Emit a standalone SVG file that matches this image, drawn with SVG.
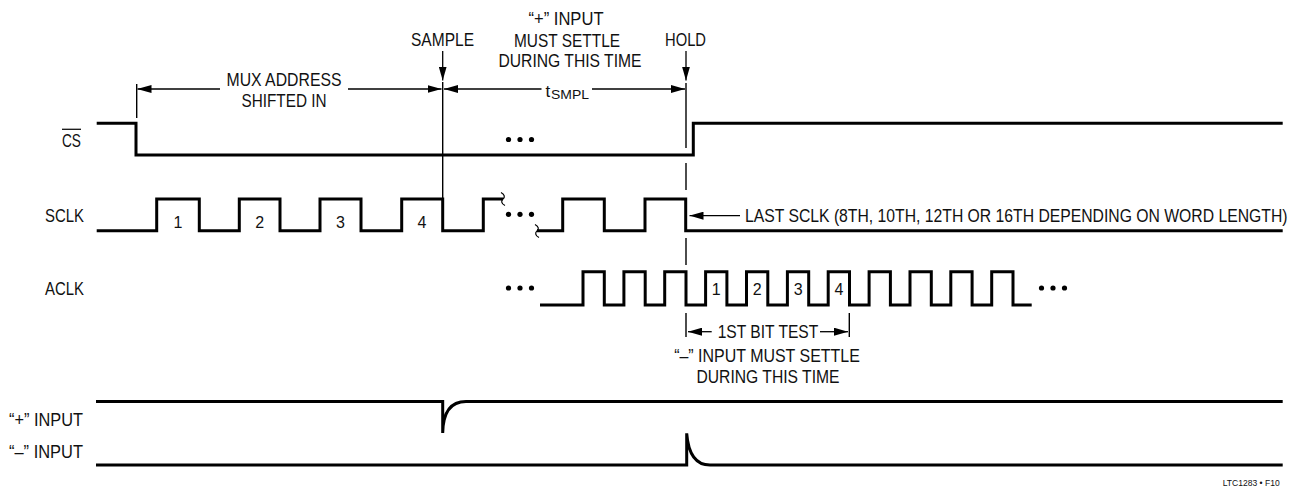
<svg xmlns="http://www.w3.org/2000/svg" width="1298" height="487" viewBox="0 0 1298 487">
<style>
  .t { font-family: "Liberation Sans", Arial, sans-serif; font-size: 19px; fill: #111; }
  .s { font-family: "Liberation Sans", Arial, sans-serif; font-size: 18px; fill: #111; }
  .n { font-family: "Liberation Sans", Arial, sans-serif; font-size: 16px; fill: #111; }
  .w { fill: none; stroke: #000; stroke-width: 3; stroke-linejoin: miter; stroke-linecap: butt; }
  .thin { fill: none; stroke: #000; stroke-width: 1.4; }
  .dim { fill: none; stroke: #000; stroke-width: 1.3; marker-end: url(#ah); }
  .sq { fill: none; stroke: #000; stroke-width: 1.2; }
  .dot { fill: #000; }
</style>
<defs>
  <marker id="ah" viewBox="0 0 14 8" markerWidth="14" markerHeight="8" refX="14" refY="4" orient="auto" markerUnits="userSpaceOnUse">
    <path d="M0,0 L14,4 L0,8 Z" fill="#000"/>
  </marker>
  <g id="dots3">
    <circle cx="0" cy="0" r="2.6"/>
    <circle cx="11.5" cy="0" r="2.6"/>
    <circle cx="23" cy="0" r="2.6"/>
  </g>
</defs>

<!-- signal labels -->
<g id="labels">
  <text id="lbl-cs" class="s" x="62" y="146.7" textLength="19" lengthAdjust="spacingAndGlyphs">CS</text>
  <line x1="62" y1="129.3" x2="81" y2="129.3" stroke="#111" stroke-width="1.3"/>
  <text id="lbl-sclk" class="s" x="45" y="221.7" textLength="39" lengthAdjust="spacingAndGlyphs">SCLK</text>
  <text id="lbl-aclk" class="s" x="45" y="294.6" textLength="39" lengthAdjust="spacingAndGlyphs">ACLK</text>
  <text id="lbl-plus" class="s" x="9" y="425.7" textLength="74" lengthAdjust="spacingAndGlyphs">“+” INPUT</text>
  <text id="lbl-minus" class="s" x="9" y="458.3" textLength="74" lengthAdjust="spacingAndGlyphs">“–” INPUT</text>
</g>

<!-- waveforms -->
<g id="cs">
  <path class="w" d="M96.7,123.3 H136 V155 H693.3 V123.3 H1282.7"/>
  <use href="#dots3" class="dot" x="508.5" y="139.5"/>
</g>

<g id="sclk">
  <path class="w" d="M96.7,230.7 H156.7 V199 H199.3 V230.7 H239.3 V199 H280 V230.7 H320 V199 H361 V230.7 H401.7 V199 H442.7 V230.7 H483.3 V199 H503"/>
  <path class="w" d="M537,230.7 H562.7 V199 H604.3 V230.7 H645 V199 H685.7 V230.7 H1282.7"/>
  <path class="sq" d="M501,192.5 C505,194.5 505,197.5 503,199 C501,200.5 501,203.5 505,205.5"/>
  <path class="sq" d="M535,224.5 C539,226.5 539,229.5 537,231 C535,232.5 535,235.5 539,237.5"/>
  <use href="#dots3" class="dot" x="508.5" y="214.3"/>
  <text class="n" x="178" y="228.3" text-anchor="middle">1</text>
  <text class="n" x="259.7" y="228.3" text-anchor="middle">2</text>
  <text class="n" x="340.5" y="228.3" text-anchor="middle">3</text>
  <text class="n" x="422" y="228.3" text-anchor="middle">4</text>
</g>

<g id="aclk">
  <path class="w" d="M540,305 H583 V271.7 H604.3 V305 H623.9 V271.7 H645.2 V305 H664.7 V271.7 H686 V305 H705.6 V271.7 H726.9 V305 H746.5 V271.7 H767.8 V305 H787.4 V271.7 H808.7 V305 H828.2 V271.7 H849.5 V305 H869.1 V271.7 H890.4 V305 H910 V271.7 H931.3 V305 H950.8 V271.7 H972.1 V305 H991.7 V271.7 H1013 V305 H1031.7"/>
  <use href="#dots3" class="dot" x="508.5" y="288"/>
  <use href="#dots3" class="dot" x="1041.5" y="288"/>
  <text class="n" x="716.3" y="295" text-anchor="middle">1</text>
  <text class="n" x="757.2" y="295" text-anchor="middle">2</text>
  <text class="n" x="798.1" y="295" text-anchor="middle">3</text>
  <text class="n" x="838.9" y="295" text-anchor="middle">4</text>
</g>

<g id="plus-input">
  <path class="w" d="M96,401.5 H442.7 V433 C443,414 449,401.5 466,401.5 H1282.7"/>
</g>

<g id="minus-input">
  <path class="w" d="M96,465 H686.7 V433.3 C688,450 693,465 710,465 H1282.7"/>
</g>

<!-- annotations / connectors -->
<g id="connectors">
  <!-- MUX address -->
  <line class="thin" x1="136.7" y1="84" x2="136.7" y2="118"/>
  <line class="dim" x1="220" y1="89" x2="137.5" y2="89"/>
  <line class="dim" x1="348" y1="89" x2="441.5" y2="89"/>
  <!-- sample line -->
  <line class="thin" x1="442.7" y1="82" x2="442.7" y2="199"/>
  <line class="dim" x1="442.7" y1="51" x2="442.7" y2="80.5"/>
  <!-- tSMPL -->
  <line class="dim" x1="541.5" y1="89" x2="444" y2="89"/>
  <line class="dim" x1="592" y1="89" x2="685" y2="89"/>
  <!-- hold -->
  <line class="dim" x1="686" y1="51" x2="686" y2="80.5"/>
  <line class="thin" x1="686" y1="83" x2="686" y2="148"/>
  <line class="thin" x1="686" y1="163" x2="686" y2="190"/>
  <line class="thin" x1="686" y1="238" x2="686" y2="265"/>
  <line class="thin" x1="686" y1="313" x2="686" y2="337"/>
  <!-- last sclk -->
  <line class="dim" x1="740" y1="215.7" x2="689.5" y2="215.7"/>
  <!-- 1st bit test -->
  <line class="thin" x1="849.3" y1="313" x2="849.3" y2="337"/>
  <line class="dim" x1="711.7" y1="331.7" x2="688" y2="331.7"/>
  <line class="dim" x1="820" y1="331.7" x2="848" y2="331.7"/>
</g>

<g id="annotation-text">
  <text class="t" x="284" y="86" text-anchor="middle" textLength="115" lengthAdjust="spacingAndGlyphs">MUX ADDRESS</text>
  <text class="t" x="284" y="107" text-anchor="middle" textLength="85" lengthAdjust="spacingAndGlyphs">SHIFTED IN</text>
  <text class="t" x="442.5" y="46" text-anchor="middle" textLength="63" lengthAdjust="spacingAndGlyphs">SAMPLE</text>
  <text class="t" x="566" y="25" text-anchor="middle" textLength="75" lengthAdjust="spacingAndGlyphs">“+” INPUT</text>
  <text class="t" x="567" y="46.5" text-anchor="middle" textLength="106" lengthAdjust="spacingAndGlyphs">MUST SETTLE</text>
  <text class="t" x="570" y="66.7" text-anchor="middle" textLength="143" lengthAdjust="spacingAndGlyphs">DURING THIS TIME</text>
  <text class="t" x="685.5" y="46" text-anchor="middle" textLength="41" lengthAdjust="spacingAndGlyphs">HOLD</text>
  <text class="t" x="545.5" y="96.5" style="font-size:17px">t</text>
  <text class="t" x="551" y="98.5" style="font-size:13px" textLength="38" lengthAdjust="spacingAndGlyphs">SMPL</text>
  <text class="t" transform="translate(745,222.3) scale(0.8227,1)" x="0" y="0" textLength="659.4" lengthAdjust="spacingAndGlyphs">LAST SCLK (8TH, 10TH, 12TH OR 16TH DEPENDING ON WORD LENGTH)</text>
  <text class="t" x="768" y="338.3" text-anchor="middle" textLength="100.6" lengthAdjust="spacingAndGlyphs">1ST BIT TEST</text>
  <text class="t" x="767" y="361.7" text-anchor="middle" textLength="185.7" lengthAdjust="spacingAndGlyphs">“–” INPUT MUST SETTLE</text>
  <text class="t" x="768" y="382.5" text-anchor="middle" textLength="143" lengthAdjust="spacingAndGlyphs">DURING THIS TIME</text>
  <text x="1222.7" y="485.5" textLength="57" lengthAdjust="spacingAndGlyphs" style="font-family:'Liberation Sans', Arial, sans-serif; font-size:9.5px; fill:#111">LTC1283 • F10</text>
</g>
</svg>
